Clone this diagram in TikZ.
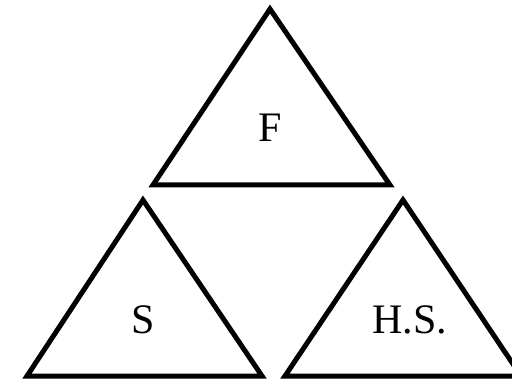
\documentclass[tikz,border=0pt]{standalone}
\usepackage{fontspec}
\setmainfont{Liberation Serif}
\usepackage{tikz}
\usetikzlibrary{positioning}
\tikzstyle{tri} = [line width=5pt, line join=miter, draw=black]
\tikzstyle{lbl} = [font=\fontsize{42}{50}\selectfont, inner sep=0pt]

\begin{document}
\begin{tikzpicture}[x=1pt, y=1pt]
    \useasboundingbox (0,0) rectangle (512,381);
    \clip (0,0) rectangle (512,381);
    % Top triangle
    \draw [tri] (270,372) -- (153,196) -- (390,196) -- cycle;
    \node (f) [lbl] at (270,253) {F};
    % Bottom left triangle
    \draw [tri] (143,181) -- (27,5) -- (262,5) -- cycle;
    \node (s) [lbl] at (143,61) {S};
    % Bottom right triangle
    \draw [tri] (403,181) -- (285,5) -- (521,5) -- cycle;
    \node (hs) [lbl] at (410,61) {H.S.};
\end{tikzpicture}
\end{document}
